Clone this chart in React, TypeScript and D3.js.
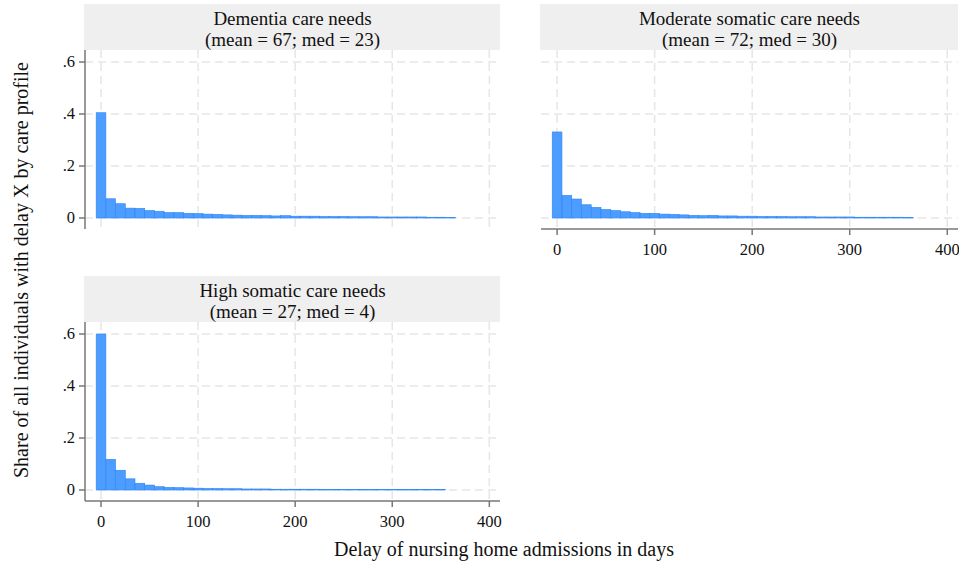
import React from 'react';
import * as d3 from 'd3';

// histogram shares, bins of 10 days starting at -5
const binStart = -5;
const binWidth = 10;

const dementia = [0.405, 0.074, 0.055, 0.038, 0.037, 0.029, 0.026, 0.021, 0.021, 0.018, 0.017, 0.015, 0.014, 0.012, 0.011, 0.010, 0.010, 0.009, 0.008, 0.009, 0.007, 0.007, 0.007, 0.006, 0.006, 0.006, 0.005, 0.005, 0.005, 0.004, 0.004, 0.004, 0.004, 0.004, 0.003, 0.003, 0.002];
const moderate = [0.331, 0.087, 0.073, 0.051, 0.041, 0.033, 0.029, 0.024, 0.021, 0.018, 0.018, 0.015, 0.014, 0.012, 0.010, 0.009, 0.010, 0.008, 0.008, 0.007, 0.007, 0.006, 0.006, 0.006, 0.005, 0.005, 0.005, 0.004, 0.004, 0.004, 0.004, 0.003, 0.003, 0.003, 0.003, 0.003, 0.002];
const high = [0.600, 0.118, 0.076, 0.043, 0.026, 0.019, 0.013, 0.010, 0.009, 0.008, 0.007, 0.006, 0.006, 0.005, 0.005, 0.004, 0.004, 0.004, 0.003, 0.003, 0.003, 0.003, 0.003, 0.002, 0.002, 0.002, 0.002, 0.002, 0.002, 0.002, 0.002, 0.002, 0.002, 0.002, 0.002, 0.002];

const titles = ['Dementia care needs', 'Moderate somatic care needs', 'High somatic care needs'];
const subtitles = ['(mean = 67; med = 23)', '(mean = 72; med = 30)', '(mean = 27; med = 4)'];

const xTicks = [0, 100, 200, 300, 400];
const yTicks = [0, 0.2, 0.4, 0.6];
const yTickLabels = ['0', '.2', '.4', '.6'];

const width = 959;
const height = 564;
const font = '"Liberation Serif", "Times New Roman", serif';
const headerH = 46;

const panels = [
  { data: dementia, left: 85, top: 50, w: 415, h: 179, showY: true, showX: false },
  { data: moderate, left: 541, top: 50, w: 417, h: 179, showY: false, showX: true },
  { data: high, left: 85, top: 322, w: 415, h: 179, showY: true, showX: true },
];

const Panel = ({ p, i }: { p: any; i: number }) => {
  const x = d3.scaleLinear().domain([-16.5, 411]).range([p.left, p.left + p.w]);
  const y = d3.scaleLinear().domain([-0.0423, 0.6462]).range([p.top + p.h, p.top]);
  const bottom = p.top + p.h;
  const cx = p.left + p.w / 2;
  return (
    <g>
      <rect x={p.left - 1} y={p.top - headerH} width={p.w + 1} height={headerH} fill="#efefef" />
      <text x={cx} y={p.top - 25} textAnchor="middle" fontSize={19} fontFamily={font} fill="#111">{titles[i]}</text>
      <text x={cx} y={p.top - 4} textAnchor="middle" fontSize={19} fontFamily={font} fill="#111">{subtitles[i]}</text>
      {/* grid */}
      {xTicks.map(t => (
        <line key={'gx' + t} x1={x(t)} x2={x(t)} y1={p.top} y2={bottom} stroke="#e6e6e6" strokeWidth={1.5} strokeDasharray="8,5" />
      ))}
      {yTicks.map(t => (
        <line key={'gy' + t} x1={p.left} x2={p.left + p.w} y1={y(t)} y2={y(t)} stroke="#e6e6e6" strokeWidth={1.5} strokeDasharray="8,5" />
      ))}
      {/* bars */}
      {p.data.map((v: number, j: number) => {
        const x0 = x(binStart + j * binWidth);
        const x1 = x(binStart + (j + 1) * binWidth);
        return (
          <rect key={j} x={x0} y={y(v)} width={x1 - x0} height={y(0) - y(v)} fill="#4d9cff" stroke="#2b86f7" strokeWidth={0.6} />
        );
      })}
      {p.showY && (
        <g>
          <line x1={p.left} x2={p.left} y1={p.top} y2={bottom} stroke="#777" strokeWidth={1.5} />
          {yTicks.map((t, k) => (
            <g key={'yt' + t}>
              <line x1={p.left - 6} x2={p.left} y1={y(t)} y2={y(t)} stroke="#777" strokeWidth={1.5} />
              <text x={p.left - 10} y={y(t) + 5} textAnchor="end" fontSize={16.5} fontFamily={font} fill="#111">{yTickLabels[k]}</text>
            </g>
          ))}
        </g>
      )}
      {p.showX && (
        <g>
          <line x1={p.left} x2={p.left + p.w} y1={bottom} y2={bottom} stroke="#777" strokeWidth={1.5} />
          {xTicks.map(t => (
            <g key={'xt' + t}>
              <line x1={x(t)} x2={x(t)} y1={bottom} y2={bottom + 6} stroke="#777" strokeWidth={1.5} />
              <text x={x(t)} y={bottom + 26} textAnchor="middle" fontSize={16.5} fontFamily={font} fill="#111">{t}</text>
            </g>
          ))}
        </g>
      )}
    </g>
  );
};

const App = () => {
  return (
    <svg width={width} height={height} style={{ position: 'absolute', left: 0, top: 0 }}>
      <rect width={width} height={height} fill="#fff" />
      {panels.map((p, i) => <Panel key={i} p={p} i={i} />)}
      <text transform="translate(28,270) rotate(-90)" textAnchor="middle" fontSize={20} fontFamily={font} fill="#111">
        Share of all individuals with delay X by care profile
      </text>
      <text x={504} y={556} textAnchor="middle" fontSize={20} fontFamily={font} fill="#111">
        Delay of nursing home admissions in days
      </text>
    </svg>
  );
};

export default App;
